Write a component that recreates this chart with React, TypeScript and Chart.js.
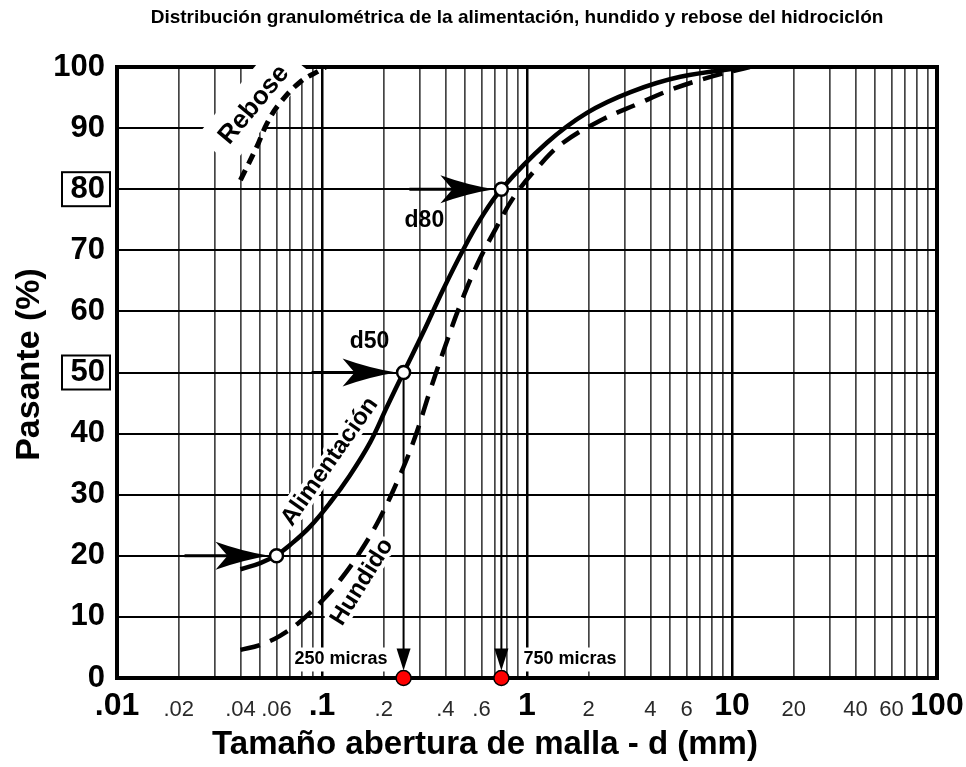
import React, { useEffect, useRef } from 'react';
import { Chart, registerables } from 'chart.js';

Chart.register(...registerables);

// ---------- text ----------
const chartTitle = 'Distribución granulométrica de la alimentación, hundido y rebose del hidrociclón';
const xAxisTitle = 'Tamaño abertura de malla - d (mm)';
const yAxisTitle = 'Pasante (%)';

// ---------- series (x = abertura en mm, y = % pasante) ----------
const alimentacionX = [0.04, 0.05, 0.06, 0.07, 0.087, 0.109, 0.137, 0.172, 0.2075, 0.25, 0.311, 0.389, 0.487, 0.59, 0.75, 1.25, 1.96, 3.2, 5.6, 11.8];
const alimentacionY = [17.8, 18.8, 20.1, 21.8, 24.7, 28.6, 33.2, 38.6, 44.4, 50, 56.5, 63.5, 70, 75, 80, 87.6, 92.5, 95.9, 98.4, 100];

const hundidoX = [0.04, 0.0498, 0.0624, 0.0781, 0.0978, 0.1224, 0.1532, 0.1918, 0.2402, 0.2842, 0.3364, 0.398, 0.471, 0.57, 0.698, 0.874, 1.157, 1.5, 2.27, 3.44, 5.15, 8.08, 12.2];
const hundidoY = [4.6, 5.4, 6.9, 9.2, 12.3, 16.0, 20.6, 26.2, 33.2, 39.4, 47.0, 54.2, 61.0, 67.6, 73.3, 79.0, 84.0, 87.6, 91.2, 93.9, 96.4, 98.5, 100];

const reboseX = [0.04, 0.048, 0.054, 0.062, 0.078, 0.098, 0.104];
const reboseY = [81.5, 86.9, 90.8, 94, 97.5, 99.5, 100];

// key points (d20-ish, d50, d80)
const keyPointX = [0.06, 0.25, 0.75];
const keyPointY = [20, 50, 80];
const keyPointLabels = ['', 'd50', 'd80'];

// cut sizes marked on the x axis
const cutX = [0.25, 0.75];
const cutY = [0, 0];
const cutLabels = ['250 micras', '750 micras'];

// curve name labels (anchored in data coordinates)
const curveLabels = ['Rebose', 'Alimentación', 'Hundido'];
const curveLabelX = [0.0466, 0.109, 0.157];
const curveLabelY = [93.8, 35.4, 15.7];
const curveLabelAngle = [-50, -55, -58];

// ---------- ticks ----------
const xLabelValues = [0.01, 0.02, 0.04, 0.06, 0.1, 0.2, 0.4, 0.6, 1, 2, 4, 6, 10, 20, 40, 60, 100];
const xLabelTexts = ['.01', '.02', '.04', '.06', '.1', '.2', '.4', '.6', '1', '2', '4', '6', '10', '20', '40', '60', '100'];
const xMajorValues = [0.01, 0.1, 1, 10, 100];
const xGridDecades = [0.01, 0.1, 1, 10];
const xGridSteps = [1, 2, 3, 4, 5, 6, 7, 8, 9];
const yTickValues = [0, 10, 20, 30, 40, 50, 60, 70, 80, 90, 100];
const yBoxedTicks = [50, 80];

// ---------- helpers ----------
const SANS = '"Liberation Sans", Arial, Helvetica, sans-serif';
const near = (a: number, b: number) => Math.abs(a - b) <= Math.abs(b) * 1e-6;
const isMajor = (v: number | undefined) => v !== undefined && xMajorValues.some((m) => near(v, m));
const xGridValues = [
  ...xGridDecades.flatMap((d) => xGridSteps.map((s) => Number((d * s).toPrecision(6)))),
  xMajorValues[xMajorValues.length - 1],
];
const labelFor = (v: number) => {
  const i = xLabelValues.findIndex((lv) => near(v, lv));
  return i >= 0 ? xLabelTexts[i] : '';
};
const pts = (xs: number[], ys: number[]) => xs.map((x, i) => ({ x, y: ys[i] }));

function rotatedText(
  ctx: CanvasRenderingContext2D,
  text: string,
  x: number,
  y: number,
  angleDeg: number,
  font: string,
  halo: number,
  boxed: boolean
) {
  ctx.save();
  ctx.translate(x, y);
  ctx.rotate((angleDeg * Math.PI) / 180);
  ctx.font = font;
  ctx.textAlign = 'center';
  ctx.textBaseline = 'middle';
  if (boxed) {
    const w = ctx.measureText(text).width;
    ctx.fillStyle = '#fff';
    ctx.fillRect(-w / 2 - 14, -24, w + 28, 46);
  }
  if (halo > 0) {
    ctx.lineJoin = 'round';
    ctx.strokeStyle = '#fff';
    ctx.lineWidth = halo;
    ctx.strokeText(text, 0, 0);
  }
  ctx.fillStyle = '#000';
  ctx.fillText(text, 0, 0);
  ctx.restore();
}

const annotationPlugin = {
  id: 'granuloAnnotations',
  beforeDatasetsDraw(chart: any) {
    const { ctx, chartArea, scales } = chart;
    const xs = scales.x;
    const ys = scales.y;
    ctx.save();

    // outer frame
    ctx.strokeStyle = '#000';
    ctx.lineWidth = 4;
    ctx.strokeRect(chartArea.left, chartArea.top, chartArea.right - chartArea.left, chartArea.bottom - chartArea.top);

    // curve labels
    curveLabels.forEach((t, i) => {
      rotatedText(
        ctx,
        t,
        xs.getPixelForValue(curveLabelX[i]),
        ys.getPixelForValue(curveLabelY[i]),
        curveLabelAngle[i],
        `bold ${i === 0 ? 26 : 24}px ${SANS}`,
        i === 0 ? 0 : 8,
        i === 0
      );
    });

    // horizontal arrows pointing to key points
    ctx.fillStyle = '#000';
    ctx.strokeStyle = '#000';
    keyPointX.forEach((kx, i) => {
      const px = xs.getPixelForValue(kx);
      const py = ys.getPixelForValue(keyPointY[i]);
      const tip = px - 7;
      ctx.lineWidth = 3;
      ctx.beginPath();
      ctx.moveTo(tip - 85, py);
      ctx.lineTo(tip - 40, py);
      ctx.stroke();
      ctx.beginPath();
      ctx.moveTo(tip, py);
      ctx.quadraticCurveTo(tip - 26, py - 4, tip - 54, py - 14);
      ctx.lineTo(tip - 42, py);
      ctx.lineTo(tip - 54, py + 14);
      ctx.quadraticCurveTo(tip - 26, py + 4, tip, py);
      ctx.closePath();
      ctx.fill();
      if (keyPointLabels[i]) {
        const dx = i === 1 ? -34 : -77;
        const dy = i === 1 ? -31 : 31;
        ctx.font = `bold 23px ${SANS}`;
        ctx.textAlign = 'center';
        ctx.textBaseline = 'middle';
        ctx.fillText(keyPointLabels[i], px + dx, py + dy);
      }
    });

    // vertical drop arrows to the cut sizes
    cutX.forEach((cx, i) => {
      const px = xs.getPixelForValue(cx);
      const k = keyPointX.findIndex((v) => near(v, cx));
      const top = ys.getPixelForValue(keyPointY[k]) + 6.5;
      const tipY = ys.getPixelForValue(cutY[i]) - 7.5;
      ctx.lineWidth = 2;
      ctx.beginPath();
      ctx.moveTo(px, top);
      ctx.lineTo(px, tipY - 16);
      ctx.stroke();
      ctx.beginPath();
      ctx.moveTo(px, tipY);
      ctx.lineTo(px - 7, tipY - 22);
      ctx.lineTo(px + 7, tipY - 22);
      ctx.closePath();
      ctx.fill();

      // label with white background
      ctx.font = `bold 18px ${SANS}`;
      ctx.textBaseline = 'middle';
      const w = ctx.measureText(cutLabels[i]).width;
      const cy = tipY - 11;
      const cxText = i === 0 ? px - 16 - w / 2 : px + 22 + w / 2;
      ctx.fillStyle = '#fff';
      ctx.fillRect(cxText - w / 2 - 3, cy - 12, w + 6, 24);
      ctx.fillStyle = '#000';
      ctx.textAlign = 'center';
      ctx.fillText(cutLabels[i], cxText, cy);
    });

    ctx.restore();
  },
  afterDraw(chart: any) {
    const { ctx, chartArea, scales, width } = chart;
    const ys = scales.y;
    ctx.save();

    // boxes around highlighted y tick labels
    ctx.strokeStyle = '#000';
    ctx.lineWidth = 2;
    yBoxedTicks.forEach((v) => {
      const py = ys.getPixelForValue(v);
      ctx.strokeRect(chartArea.left - 55, py - 17, 48, 34);
    });

    ctx.fillStyle = '#000';
    ctx.textAlign = 'center';
    ctx.textBaseline = 'middle';

    // main title
    ctx.font = `bold 19px ${SANS}`;
    ctx.fillText(chartTitle, (chartArea.left + chartArea.right) / 2 - 10, 18);

    // x axis title
    ctx.font = `bold 33px ${SANS}`;
    ctx.fillText(xAxisTitle, width / 2 + 2, 745);

    // y axis title
    ctx.save();
    ctx.translate(30, (chartArea.top + chartArea.bottom) / 2 - 8);
    ctx.rotate(-Math.PI / 2);
    ctx.font = `bold 34px ${SANS}`;
    ctx.fillText(yAxisTitle, 0, 0);
    ctx.restore();

    ctx.restore();
  },
};

export default function App() {
  const canvasRef = useRef<HTMLCanvasElement>(null);

  useEffect(() => {
    document.body.style.margin = '0';
    const canvas = canvasRef.current;
    if (!canvas) return;

    const chart = new Chart(canvas, {
      type: 'line',
      data: {
        datasets: [
          {
            label: 'Puntos',
            type: 'scatter',
            data: pts(keyPointX, keyPointY),
            pointRadius: 6.5,
            pointBackgroundColor: '#fff',
            pointBorderColor: '#000',
            pointBorderWidth: 2.5,
            showLine: false,
            order: 0,
          } as any,
          {
            label: 'Cortes',
            type: 'scatter',
            data: pts(cutX, cutY),
            pointRadius: 7.5,
            pointBackgroundColor: '#ff0000',
            pointBorderColor: '#000',
            pointBorderWidth: 1.5,
            showLine: false,
            clip: false,
            order: 0,
          } as any,
          {
            label: 'Alimentación',
            data: pts(alimentacionX, alimentacionY),
            borderColor: '#000',
            borderWidth: 4.5,
            tension: 0.4,
            pointRadius: 0,
            fill: false,
            order: 1,
          },
          {
            label: 'Hundido',
            data: pts(hundidoX, hundidoY),
            borderColor: '#000',
            borderWidth: 4.5,
            borderDash: [20, 11],
            tension: 0.4,
            pointRadius: 0,
            fill: false,
            order: 2,
          },
          {
            label: 'Rebose',
            data: pts(reboseX, reboseY),
            borderColor: '#000',
            borderWidth: 5,
            borderDash: [11, 7],
            tension: 0.4,
            pointRadius: 0,
            fill: false,
            order: 3,
          },
        ],
      },
      options: {
        responsive: false,
        animation: false,
        devicePixelRatio: 1,
        layout: { padding: { top: 67, right: 29, left: 0, bottom: 0 } },
        plugins: {
          legend: { display: false },
          title: { display: false },
          tooltip: { enabled: false },
        },
        scales: {
          x: {
            type: 'logarithmic',
            min: 0.01,
            max: 100,
            afterBuildTicks: (s: any) => {
              s.ticks = xGridValues.map((v) => ({ value: v, major: isMajor(v) }));
            },
            afterFit: (s: any) => {
              s.height = 89;
              s.paddingLeft = 0;
              s.paddingRight = 0;
            },
            ticks: {
              autoSkip: false,
              maxRotation: 0,
              minRotation: 0,
              padding: 9,
              color: (c: any) => (isMajor(c.tick?.value) ? '#000' : '#2a2a2a'),
              font: (c: any) =>
                isMajor(c.tick?.value)
                  ? { family: SANS, size: 32, weight: 'bold', lineHeight: 1.2 }
                  : { family: SANS, size: 22, weight: 'normal', lineHeight: 2.05 },
              callback: (v: any) => labelFor(Number(v)),
            },
            grid: {
              drawTicks: false,
              color: (c: any) => (isMajor(c.tick?.value) ? '#000' : '#444'),
              lineWidth: (c: any) => (isMajor(c.tick?.value) ? 2.5 : 1.7),
            },
            border: { display: false },
          },
          y: {
            type: 'linear',
            min: 0,
            max: 100,
            afterBuildTicks: (s: any) => {
              s.ticks = yTickValues.map((v) => ({ value: v }));
            },
            afterFit: (s: any) => {
              s.width = 117;
              s.paddingTop = 0;
              s.paddingBottom = 0;
            },
            ticks: {
              padding: 12,
              color: '#000',
              font: { family: SANS, size: 31, weight: 'bold' },
            },
            grid: { drawTicks: false, color: '#000', lineWidth: 2 },
            border: { display: false },
          },
        },
      } as any,
      plugins: [annotationPlugin],
    });

    return () => chart.destroy();
  }, []);

  return (
    <div style={{ width: 966, height: 767 }}>
      <canvas ref={canvasRef} width={966} height={767} style={{ display: 'block' }} />
    </div>
  );
}
